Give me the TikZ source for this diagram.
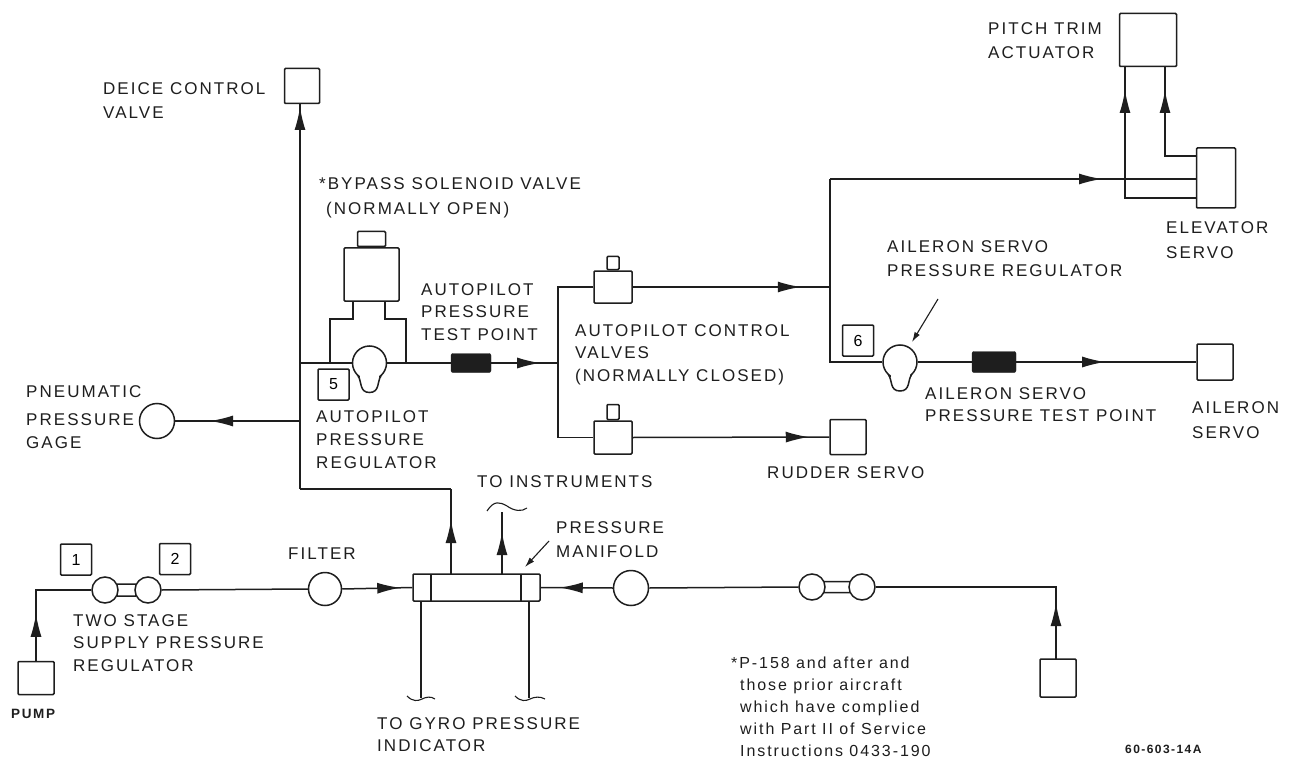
\documentclass[tikz,border=0pt]{standalone}
\usepackage{fontspec}
\setmainfont[LetterSpace=12]{Liberation Sans}
\usetikzlibrary{arrows.meta, decorations.markings}
\definecolor{inkBlack}{HTML}{1E1E1E}

\begin{document}
\begin{tikzpicture}[
  x=1pt, y=-1pt,
  pipe/.style={draw=inkBlack, line width=1.5pt},
  flow/.style={postaction={decorate}, decoration={markings,
    mark=at position #1 with {\arrow{Latex[length=23pt,width=11pt]}}}},
  pointer/.style={draw=inkBlack, line width=1.1pt, -{Latex[length=10pt,width=6pt]}},
  wiggle/.style={draw=inkBlack, line width=1.1pt},
  unit/.style={draw=inkBlack, line width=1.5pt, inner sep=0pt, rounded corners=1pt},
  numbox/.style={unit, minimum width=31pt, minimum height=31pt, font=\fontsize{16}{16}\selectfont},
  testpoint/.style={fill=inkBlack, draw=inkBlack, rounded corners=2pt, inner sep=0pt},
  roundunit/.style={draw=inkBlack, line width=1.5pt, circle, inner sep=0pt, fill=white},
  lbl/.style={anchor=north west, inner sep=0pt, align=left, text=inkBlack,
    font=\fontsize{17}{22.5}\selectfont},
  note/.style={anchor=north west, inner sep=0pt, align=left, text=inkBlack,
    font=\fontsize{16}{22}\selectfont}
]
\useasboundingbox (0,0) rectangle (1292,759);
\fill[white] (0,0) rectangle (1292,759);

% units
\node[unit, minimum width=36pt, minimum height=33pt] (pump) at (36,678) {};
\node[unit, minimum width=35pt, minimum height=35pt] (deice) at (302,86) {};
\node[unit, minimum width=57pt, minimum height=53pt] (pitch) at (1148,40) {};
\node[unit, minimum width=39pt, minimum height=60pt] (elev) at (1216,178) {};
\node[unit, minimum width=36pt, minimum height=36pt] (ailservo) at (1215,362) {};
\node[unit, minimum width=36pt, minimum height=35pt] (rudder) at (848,437) {};
\node[unit, minimum width=36pt, minimum height=38pt] (lowbox) at (1058,678) {};
\node[unit, minimum width=127pt, minimum height=27pt] (manifold) at (476.5,587.5) {};
\node[unit, minimum width=38pt, minimum height=32pt] (valveA) at (613,287) {};
\node[unit, minimum width=12pt, minimum height=13pt, anchor=south] (nubA) at (valveA.north) {};
\node[unit, minimum width=38pt, minimum height=33pt] (valveB) at (613,437.5) {};
\node[unit, minimum width=12pt, minimum height=15pt, anchor=south] (nubB) at (valveB.north) {};
\node[unit, minimum width=55pt, minimum height=53pt] (sol) at (371.5,274.5) {};
\node[unit, minimum width=28pt, minimum height=15pt, anchor=south] (solcap) at (sol.north) {};
\node[unit, minimum width=20pt, minimum height=12pt] (linkA) at (126.5,590) {};
\node[unit, minimum width=30pt, minimum height=11pt] (linkB) at (837,587) {};
\draw[pipe] (431,574) -- (431,601);
\draw[pipe] (521,574) -- (521,601);

% junctions
\coordinate (mainA) at (300,363);
\coordinate (mainB) at (300,489);
\coordinate (gageT) at (300,421);
\coordinate (teeA) at (558,363);
\coordinate (teeB) at (830,287);
\coordinate (teeC) at (830,179);
\coordinate (upA) at (451,574);
\coordinate (upB) at (502,574);
\coordinate (cornerA) at (451,489);
\coordinate (instrEnd) at (502,512);
\coordinate (gyroA) at (421,601);
\coordinate (gyroB) at (529,601);
\coordinate (gyroAEnd) at (421,698);
\coordinate (gyroBEnd) at (529,698);
\coordinate (elevA) at (1197,179);
\coordinate (elevB) at (1197,198);
\coordinate (elevC) at (1197,156);
\coordinate (pitchA) at (1125,67);
\coordinate (pitchB) at (1165,67);
\coordinate (solA) at (353,301);
\coordinate (solB) at (385,301);
\coordinate (solC) at (330,363);
\coordinate (solD) at (406,363);
\coordinate (lowTee) at (1056,659);

% round units
\node[roundunit, minimum size=26pt] (regA) at (105,590) {};
\node[roundunit, minimum size=26pt] (regB) at (148,590) {};
\node[roundunit, minimum size=33pt] (filter) at (325,589) {};
\node[roundunit, minimum size=35pt] (filterB) at (631,588) {};
\node[roundunit, minimum size=26pt] (regC) at (812,587) {};
\node[roundunit, minimum size=26pt] (regD) at (862,587) {};
\node[roundunit, minimum size=35pt] (gage) at (157,421) {};
\node[roundunit, minimum size=34pt] (regF) at (369.5,363) {};
\node[roundunit, minimum size=34pt] (regG) at (900,362) {};
\fill[white] (360,372) rectangle (379,381);
\fill[white] (890.5,371) rectangle (909.5,380);
\draw[pipe] (358,376) .. controls (362,381) and (359,392.5) .. (369.5,392.5)
  .. controls (380,392.5) and (377,381) .. (381,376);
\draw[pipe] (888.5,375) .. controls (892.5,380) and (889.5,391) .. (900,391)
  .. controls (910.5,391) and (907.5,380) .. (911.5,375);
\node[testpoint, minimum width=40pt, minimum height=19pt] (testA) at (471,363) {};
\node[testpoint, minimum width=44pt, minimum height=21pt] (testB) at (994,362) {};

% pipes
\draw[pipe, flow=47pt] (pump.north) |- (regA.west);
\draw[pipe] (regB.east) -- (filter.west);
\draw[pipe, flow=58pt] (filter.east) -- (manifold.west);
\draw[pipe, flow=53pt] (filterB.west) -- (manifold.east);
\draw[pipe] (regC.west) -- (filterB.east);
\draw[pipe, flow=56pt] (lowTee) |- (regD.east);
\draw[pipe] (regF.west) -- (mainA);
\draw[pipe] (regF.east) -- (testA.west);
\draw[pipe, flow=49pt] (testA.east) -- (teeA);
\draw[pipe] (mainA) -- (mainB);
\draw[pipe, flow=256pt] (mainA) -- (deice.south -| mainA);
\draw[pipe, flow=54pt] (upA) -- (cornerA);
\draw[pipe] (cornerA) -- (mainB);
\draw[pipe, flow=90pt] (gageT) -- (gage.east);
\draw[pipe, flow=42pt] (upB) -- (instrEnd);
\draw[pipe] (valveA.west) -| (teeA) |- (valveB.west);
\draw[pipe, flow=168pt] (valveA.east) -- (teeB);
\draw[pipe, flow=176pt] (valveB.east) -- (rudder.west);
\draw[pipe] (regG.west) -| (teeC);
\draw[pipe, flow=272pt] (teeC) -- (elevA);
\draw[pipe] (regG.east) -- (testB.west);
\draw[pipe, flow=89pt] (testB.east) -- (ailservo.west);
\draw[pipe, flow=180pt] (elevB) -| (pitchA);
\draw[pipe, flow=98pt] (elevC) -| (pitchB);
\draw[pipe] (gyroA) -- (gyroAEnd);
\draw[pipe] (gyroB) -- (gyroBEnd);
\draw[wiggle] (487,511) .. controls (494,500) and (500,502) .. (507,506) .. controls (514,511) and (522,512) .. (527,508);
\draw[wiggle] (407,696) .. controls (413,702) and (418,701) .. (422,699) .. controls (426,697) and (431,696) .. (435,699);
\draw[wiggle] (515,696) .. controls (521,702) and (526,701) .. (530,699) .. controls (534,697) and (540,696) .. (545,699);

% solenoid feed
\draw[pipe] (solA) |- (330,319) -- (solC);
\draw[pipe] (solB) |- (406,319) -- (solD);

% numbers
\node[numbox] (n1) at (76,559.5) {1};
\node[numbox] (n2) at (175,559) {2};
\node[numbox] (n5) at (333.5,384.5) {5};
\node[numbox] (n6) at (858,340.5) {6};

% leaders
\coordinate (manLead) at (549,541);
\coordinate (ailLead) at (938,299);
\draw[pointer] (manLead) -- (525,567);
\draw[pointer] (ailLead) -- (912,342);

% labels
\node[lbl] (tDeice) at (103,82) {DEICE CONTROL\\[2pt]VALVE};
\node[lbl] (tBypass) at (319,177) {*BYPASS SOLENOID VALVE\\[3pt]\hspace*{7pt}(NORMALLY OPEN)};
\node[lbl] (tPitch) at (988,22) {PITCH TRIM\\[2pt]ACTUATOR};
\node[lbl] (tApTest) at (421,283) {AUTOPILOT\\PRESSURE\\TEST POINT};
\node[lbl] (tApValves) at (575,324) {AUTOPILOT CONTROL\\VALVES\\(NORMALLY CLOSED)};
\node[lbl] (tAilReg) at (887,240) {AILERON SERVO\\[2pt]PRESSURE REGULATOR};
\node[lbl] (tElev) at (1166,221) {ELEVATOR\\[3pt]SERVO};
\node[lbl] (tAilTest) at (925,387) {AILERON SERVO\\PRESSURE TEST POINT};
\node[lbl] (tAilServo) at (1192,401) {AILERON\\[3pt]SERVO};
\node[lbl] (tGage) at (26,385) {PNEUMATIC\\[6pt]PRESSURE\\GAGE};
\node[lbl] (tApReg) at (316,410) {AUTOPILOT\\[1pt]PRESSURE\\REGULATOR};
\node[lbl] (tRudder) at (767,466) {RUDDER SERVO};
\node[lbl] (tInstr) at (477,475) {TO INSTRUMENTS};
\node[lbl] (tManifold) at (556,521) {PRESSURE\\[2pt]MANIFOLD};
\node[lbl] (tFilter) at (288,548) {FILTER};
\node[lbl] (tTwo) at (73,614) {TWO STAGE\\SUPPLY PRESSURE\\REGULATOR};
\node[lbl, font=\bfseries\fontsize{13.5}{14}\selectfont] (tPump) at (11,709) {PUMP};
\node[lbl] (tGyro) at (377,717) {TO GYRO PRESSURE\\INDICATOR};
\node[note] (tNote) at (731,657) {*P-158 and after and\\\hspace*{9pt}those prior aircraft\\\hspace*{9pt}which have complied\\\hspace*{9pt}with Part II of Service\\\hspace*{9pt}Instructions 0433-190};
\node[note, font=\bfseries\fontsize{12}{12}\selectfont] (tRef) at (1125,745) {60-603-14A};
\end{tikzpicture}
\end{document}
